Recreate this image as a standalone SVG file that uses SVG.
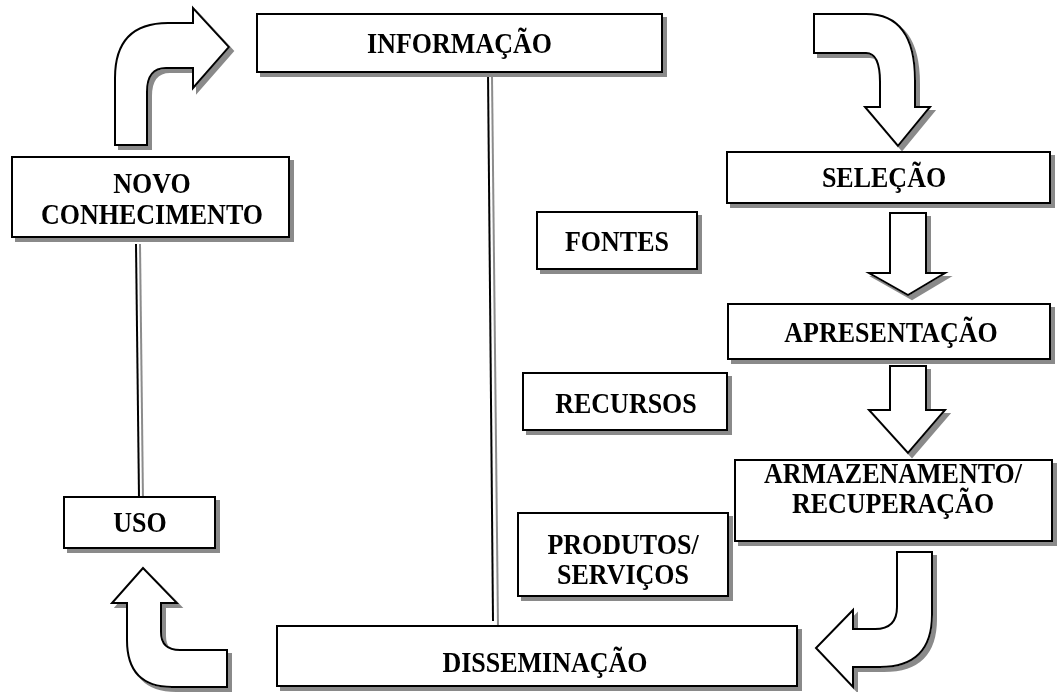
<svg xmlns="http://www.w3.org/2000/svg" width="1064" height="692" viewBox="0 0 1064 692">
  <style>
    .box { fill: #ffffff; stroke: #000000; stroke-width: 2; }
    .arrow { fill: #ffffff; stroke: #000000; stroke-width: 2; stroke-linejoin: miter; }
    .lbl { font-family: "Liberation Serif", "Times New Roman", serif; font-weight: bold; font-size: 26px; fill: #000000; text-anchor: middle; }
    .ln { stroke: #000000; stroke-width: 2; fill: none; }
    .ln2 { stroke: #8c8c8c; stroke-width: 2; fill: none; }
  </style>
  <defs>
    <filter id="shadow" x="-10%" y="-10%" width="130%" height="130%">
      <feOffset in="SourceAlpha" dx="4" dy="4" result="off"/>
      <feFlood flood-color="#8a8a8a"/>
      <feComposite in2="off" operator="in" result="sh"/>
      <feMerge>
        <feMergeNode in="sh"/>
        <feMergeNode in="SourceGraphic"/>
      </feMerge>
    </filter>
  </defs>
  <rect width="1064" height="692" fill="#ffffff"/>

  <!-- connectors: double rules and block arrows -->
  <g id="connectors">
    <line class="ln" x1="488" y1="72" x2="493" y2="621"/>
    <line class="ln2" x1="492" y1="76" x2="498" y2="627"/>
    <line class="ln" x1="136" y1="244" x2="139" y2="497"/>
    <line class="ln2" x1="140" y1="244" x2="143" y2="501"/>

    <g filter="url(#shadow)">
      <!-- up then right, into INFORMAÇÃO -->
      <path class="arrow" d="M115,145 L115,78 Q115,23 168,23 L193,23 L193,8 L229,47 L193,88 L193,68 L166,68 Q147,68 147,92 L147,145 Z"/>
      <!-- right then down, into SELEÇÃO -->
      <path class="arrow" d="M814,14 L866,14 Q915,14 915,80 L915,107 L930,107 L898,146 L865,107 L880,107 L880,82 Q880,53 866,53 L814,53 Z"/>
      <!-- SELEÇÃO to APRESENTAÇÃO -->
      <path class="arrow" d="M890,213 L926,213 L926,273 L945,273 L908,295 L869,273 L890,273 Z"/>
      <!-- APRESENTAÇÃO to ARMAZENAMENTO -->
      <path class="arrow" d="M890,366 L926,366 L926,410 L945,410 L908,453 L869,410 L890,410 Z"/>
      <!-- down then left, into DISSEMINAÇÃO -->
      <path class="arrow" d="M897,552 L932,552 L932,615 Q932,667 880,667 L853,667 L853,687 L816,648 L853,610 L853,629 L875,629 Q897,629 897,607 Z"/>
      <!-- left then up, into USO -->
      <path class="arrow" d="M127,603 L112,603 L143,568 L177,603 L161,603 L161,632 Q161,650 180,650 L227,650 L227,687 L172,687 Q127,687 127,640 Z"/>
    </g>
  </g>

  <g id="informacao" filter="url(#shadow)">
    <rect class="box" x="257" y="14" width="405" height="58"/>
    <text class="lbl" transform="translate(459.5 53) scale(1 1.1)">INFORMAÇÃO</text>
  </g>
  <g id="selecao" filter="url(#shadow)">
    <rect class="box" x="727" y="152" width="323" height="51"/>
    <text class="lbl" transform="translate(884 187) scale(1 1.1)">SELEÇÃO</text>
  </g>
  <g id="novo-conhecimento" filter="url(#shadow)">
    <rect class="box" x="12" y="157" width="277" height="80"/>
    <text class="lbl" transform="translate(152 193) scale(1 1.1)"><tspan x="0" y="0">NOVO</tspan><tspan x="0" y="28">CONHECIMENTO</tspan></text>
  </g>
  <g id="fontes" filter="url(#shadow)">
    <rect class="box" x="537" y="212" width="160" height="57"/>
    <text class="lbl" transform="translate(617 251) scale(1 1.1)">FONTES</text>
  </g>
  <g id="apresentacao" filter="url(#shadow)">
    <rect class="box" x="728" y="304" width="322" height="55"/>
    <text class="lbl" transform="translate(891 342) scale(1 1.1)">APRESENTAÇÃO</text>
  </g>
  <g id="recursos" filter="url(#shadow)">
    <rect class="box" x="523" y="373" width="204" height="57"/>
    <text class="lbl" transform="translate(626 413) scale(1 1.1)">RECURSOS</text>
  </g>
  <g id="armazenamento" filter="url(#shadow)">
    <rect class="box" x="735" y="460" width="317" height="81"/>
    <text class="lbl" transform="translate(893 483) scale(1 1.1)"><tspan x="0" y="0">ARMAZENAMENTO/</tspan><tspan x="0" y="27">RECUPERAÇÃO</tspan></text>
  </g>
  <g id="produtos" filter="url(#shadow)">
    <rect class="box" x="518" y="513" width="210" height="83"/>
    <text class="lbl" transform="translate(623 554) scale(1 1.1)"><tspan x="0" y="0">PRODUTOS/</tspan><tspan x="0" y="27">SERVIÇOS</tspan></text>
  </g>
  <g id="uso" filter="url(#shadow)">
    <rect class="box" x="64" y="497" width="151" height="51"/>
    <text class="lbl" transform="translate(140 532) scale(1 1.1)">USO</text>
  </g>
  <g id="disseminacao" filter="url(#shadow)">
    <rect class="box" x="277" y="626" width="520" height="60"/>
    <text class="lbl" transform="translate(545 672) scale(1 1.1)">DISSEMINAÇÃO</text>
  </g>
</svg>
